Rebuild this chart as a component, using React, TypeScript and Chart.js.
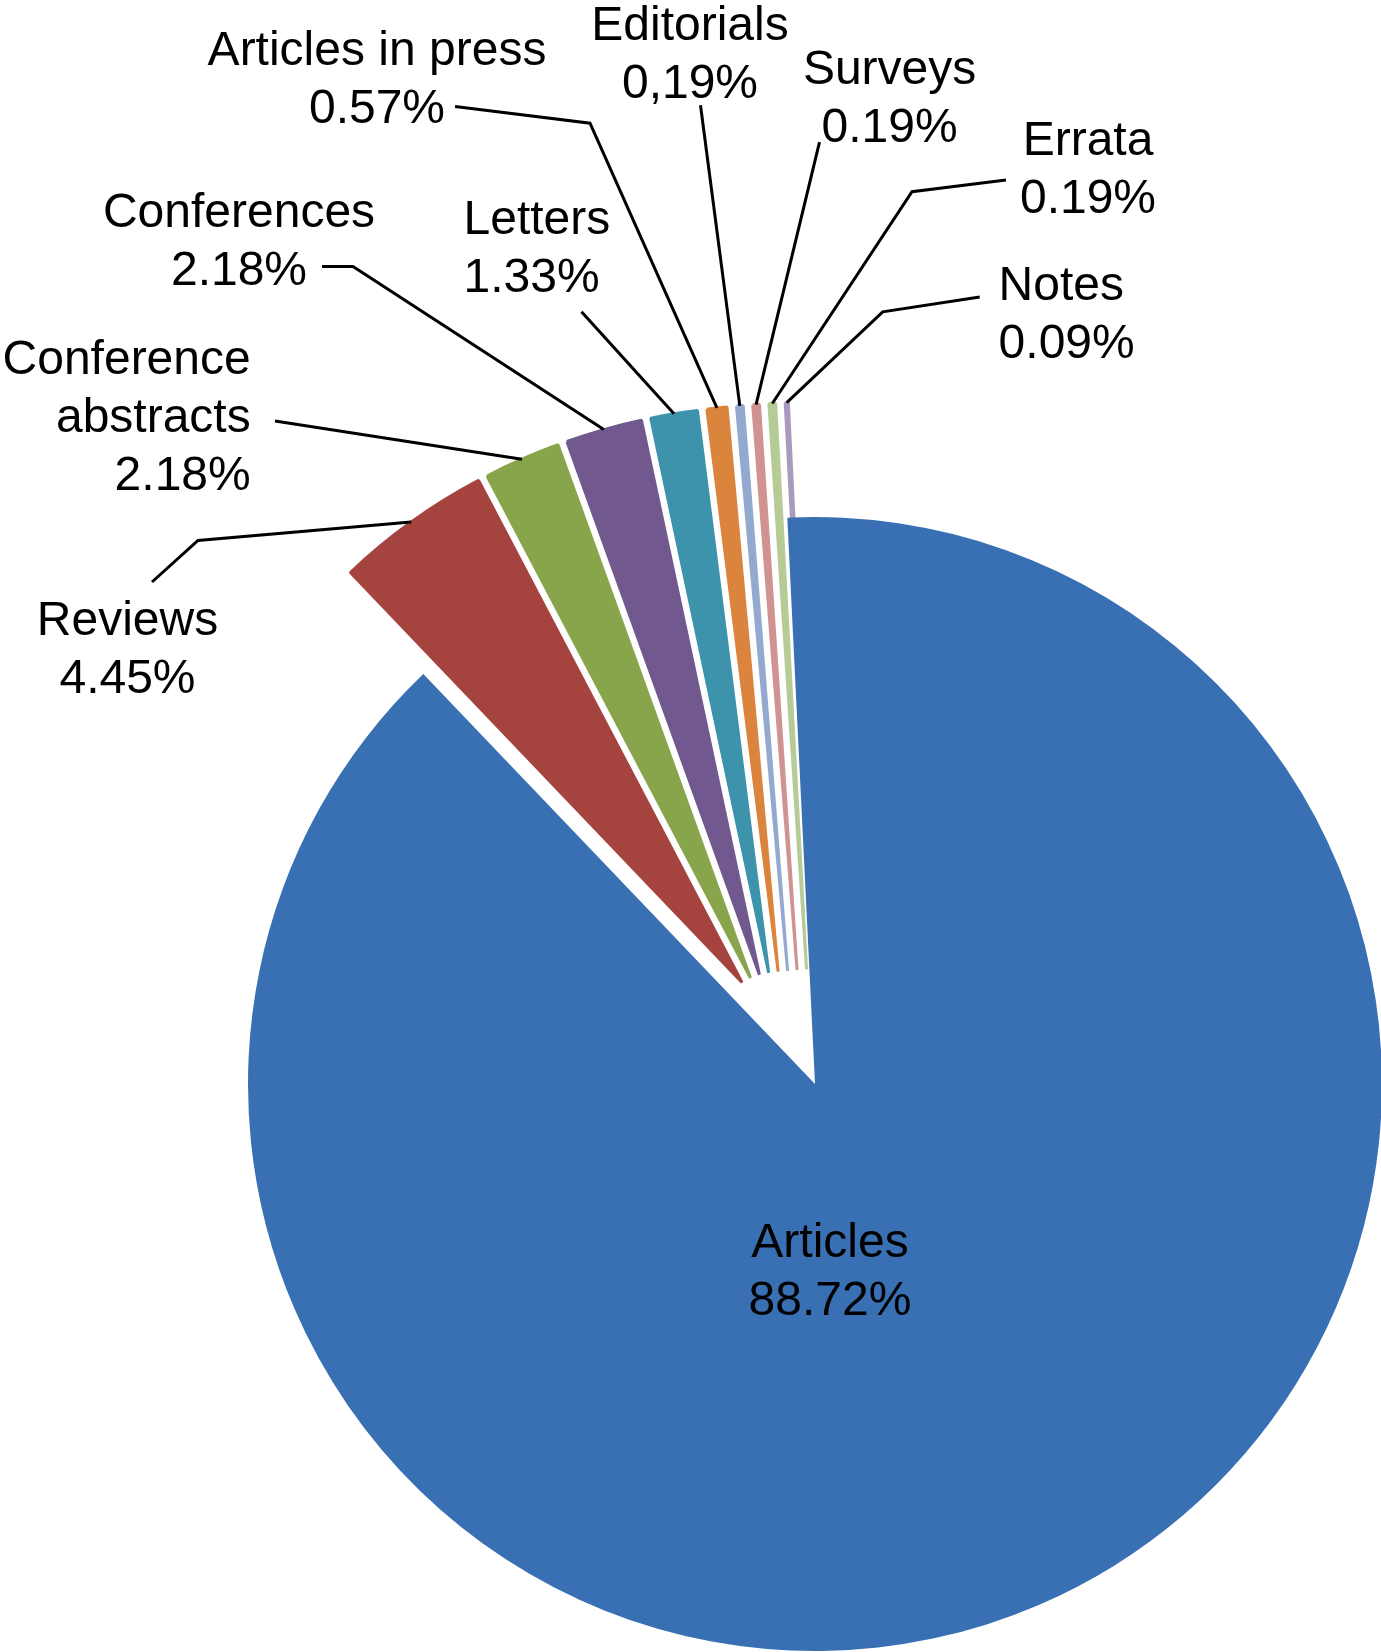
import React, { useEffect, useRef } from "react";
import { Chart, registerables } from "chart.js";

Chart.register(...registerables);

// ---- data ----
const CATEGORIES = [
  "Articles",
  "Reviews",
  "Conference\nabstracts",
  "Conferences",
  "Letters",
  "Articles in press",
  "Editorials",
  "Surveys",
  "Errata",
  "Notes",
];
const VALUES = [88.72, 4.45, 2.18, 2.18, 1.33, 0.57, 0.19, 0.19, 0.19, 0.09];
const VALUE_LABELS = ["88.72%", "4.45%", "2.18%", "2.18%", "1.33%", "0.57%", "0,19%", "0.19%", "0.19%", "0.09%"];
const COLORS = ["#3870B3", "#A5433F", "#89A54C", "#71588F", "#3D93AC", "#DB843D", "#93A9CF", "#D19392", "#B7CB97", "#A99BBD"];

// ---- layout / style ----
const W = 1381;
const H = 1652;
const CENTER_X = 815;
const CENTER_Y = 1084;
const RADIUS = 567;
const START_ROTATION = -2.8; // degrees
const FIRST_EXPLODE = 125; // first small slice pulled out along its bisector
const SLICE_GAP = 9.5; // parallel gap between neighbouring small slices
const SMALL_BORDER = 3;
const FONT = "48px 'Liberation Sans', Arial, Helvetica, sans-serif";
const LINE_H = 58;
const LEADER_WIDTH = 3;

type Layout = { x: number; y: number; align: CanvasTextAlign; leader: [number, number][] };
const LABEL_LAYOUT: Layout[] = [
  { x: 830, y: 1257, align: "center", leader: [] },
  { x: 127.5, y: 635, align: "center", leader: [[152, 582], [198, 540.5]] },
  { x: 250.7, y: 374, align: "right", leader: [[275, 421]] },
  { x: 239, y: 226.5, align: "center", leader: [[322, 266.5], [353, 266.5]] },
  { x: 463.5, y: 234, align: "left", leader: [[581.5, 311.8]] },
  { x: 377, y: 65.3, align: "center", leader: [[455, 106.4], [590, 123.2]] },
  { x: 690, y: 40, align: "center", leader: [[700.5, 105.3]] },
  { x: 889.6, y: 84.3, align: "center", leader: [[819.5, 142.2]] },
  { x: 1088, y: 155, align: "center", leader: [[1006, 180], [912, 191.7]] },
  { x: 998.6, y: 300, align: "left", leader: [[979.7, 297], [882.7, 311.8]] },
];

function computeShifts(arcs: any[]): [number, number][] {
  const out: [number, number][] = [];
  let tx = 0;
  let ty = 0;
  arcs.forEach((arc, i) => {
    if (i === 1) {
      const mid = (arc.startAngle + arc.endAngle) / 2;
      tx = Math.cos(mid) * FIRST_EXPLODE;
      ty = Math.sin(mid) * FIRST_EXPLODE;
    } else if (i > 1) {
      tx += -Math.sin(arc.startAngle) * SLICE_GAP;
      ty += Math.cos(arc.startAngle) * SLICE_GAP;
    }
    out.push(i === 0 ? [0, 0] : [tx, ty]);
  });
  return out;
}

const explodedPie = {
  id: "explodedPie",
  beforeDatasetDraw(chart: any, args: any) {
    const arcs = args.meta.data as any[];
    const shifts = computeShifts(arcs);
    const ctx = chart.ctx as CanvasRenderingContext2D;
    const order = arcs.map((_, i) => i).slice(1).concat([0]);
    order.forEach((i) => {
      ctx.save();
      ctx.translate(shifts[i][0], shifts[i][1]);
      arcs[i].draw(ctx);
      ctx.restore();
    });
    return false;
  },
};

const sliceLabels = {
  id: "sliceLabels",
  afterDatasetsDraw(chart: any) {
    const arcs = chart.getDatasetMeta(0).data as any[];
    const shifts = computeShifts(arcs);
    const ctx = chart.ctx as CanvasRenderingContext2D;
    ctx.save();
    ctx.strokeStyle = "#000";
    ctx.lineWidth = LEADER_WIDTH;
    ctx.lineJoin = "miter";
    ctx.lineCap = "butt";
    ctx.fillStyle = "#000";
    ctx.font = FONT;
    ctx.textBaseline = "alphabetic";
    arcs.forEach((arc, i) => {
      const L = LABEL_LAYOUT[i];
      if (L.leader.length) {
        const mid = (arc.startAngle + arc.endAngle) / 2;
        const ex = arc.x + Math.cos(mid) * arc.outerRadius + shifts[i][0];
        const ey = arc.y + Math.sin(mid) * arc.outerRadius + shifts[i][1];
        ctx.beginPath();
        ctx.moveTo(L.leader[0][0], L.leader[0][1]);
        for (let k = 1; k < L.leader.length; k++) ctx.lineTo(L.leader[k][0], L.leader[k][1]);
        ctx.lineTo(ex, ey);
        ctx.stroke();
      }
      const lines = CATEGORIES[i].split("\n").concat([VALUE_LABELS[i]]);
      ctx.textAlign = L.align;
      lines.forEach((t, k) => ctx.fillText(t, L.x, L.y + k * LINE_H));
    });
    ctx.restore();
  },
};

export default function App() {
  const ref = useRef<HTMLCanvasElement | null>(null);
  useEffect(() => {
    document.body.style.margin = "0";
    if (!ref.current) return;
    const chart = new Chart(ref.current, {
      type: "pie",
      data: {
        labels: CATEGORIES.map((c) => c.replace("\n", " ")),
        datasets: [
          {
            data: VALUES,
            backgroundColor: COLORS,
            borderColor: COLORS,
            borderWidth: VALUES.map((_, i) => (i === 0 ? 0 : SMALL_BORDER)),
            radius: RADIUS,
            clip: false,
          } as any,
        ],
      },
      options: {
        responsive: false,
        animation: false,
        events: [],
        rotation: START_ROTATION,
        radius: RADIUS,
        layout: {
          padding: {
            left: 2 * CENTER_X - W,
            right: 0,
            top: 2 * CENTER_Y - H,
            bottom: 0,
          },
        },
        plugins: {
          legend: { display: false },
          tooltip: { enabled: false },
        },
      } as any,
      plugins: [explodedPie, sliceLabels],
    });
    return () => chart.destroy();
  }, []);
  return (
    <div style={{ width: W, height: H, background: "#fff" }}>
      <canvas ref={ref} width={W} height={H} style={{ display: "block" }} />
    </div>
  );
}
